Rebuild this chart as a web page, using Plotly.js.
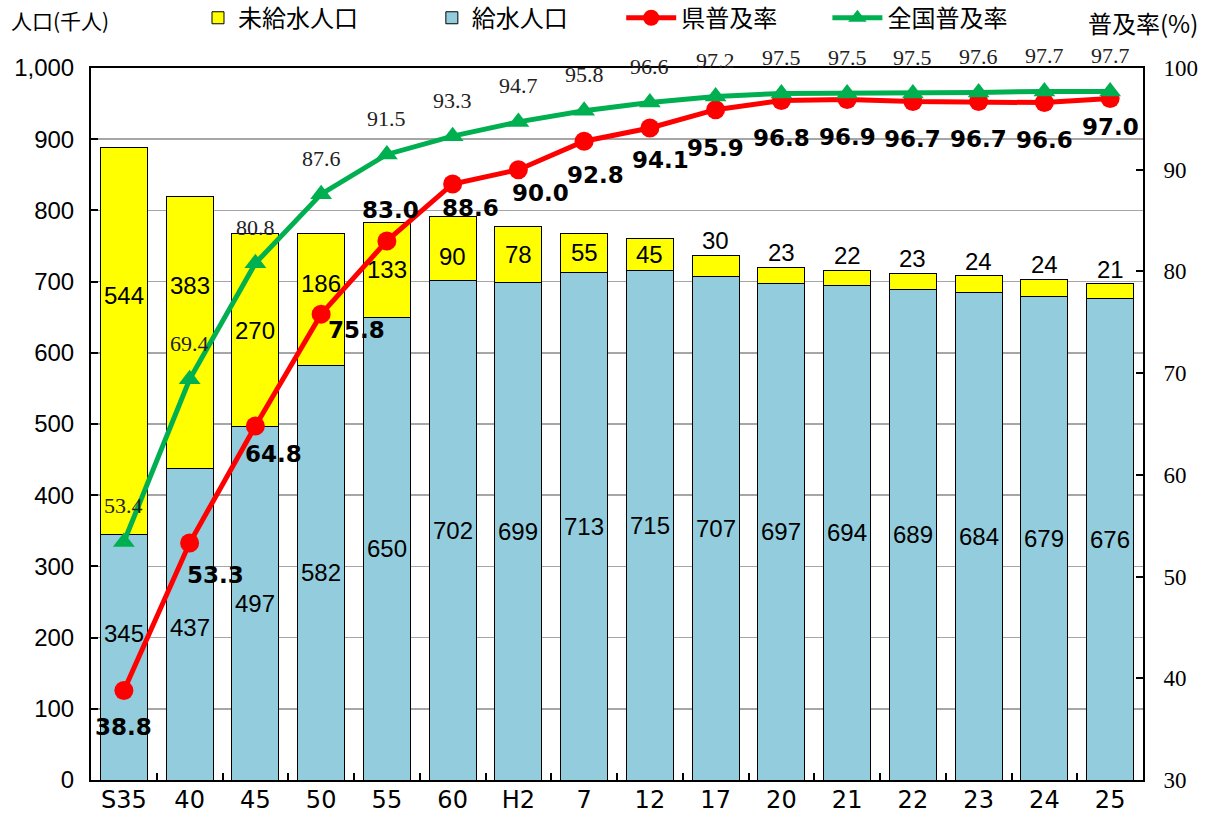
<!DOCTYPE html>
<html><head><meta charset="utf-8">
<script src="https://cdn.plot.ly/plotly-3.0.1.min.js"></script>
<style>html,body{margin:0;padding:0;background:#fff}#chart{width:1213px;height:813px}</style>
</head><body><div id="chart"></div>
<script>
const categories = ['S35','40','45','50','55','60','H2','7','12','17','20','21','22','23','24','25'];
const servedPop = [345,437,497,582,650,702,699,713,715,707,697,694,689,684,679,676];
const unservedPop = [544,383,270,186,133,90,78,55,45,30,23,22,23,24,24,21];
const prefRate = [38.8,53.3,64.8,75.8,83.0,88.6,90.0,92.8,94.1,95.9,96.8,96.9,96.7,96.7,96.6,97.0];
const nationalRate = [53.4,69.4,80.8,87.6,91.5,93.3,94.7,95.8,96.6,97.2,97.5,97.5,97.5,97.6,97.7,97.7];

// label offsets (px) used to place the value labels as in the original
const redDx = [0,26,18,35,4,18,22,11,11,0,0,0,0,0,0,0];
const redDy = [-37,-32,-28,-16,31,-24,-23,-34,-32,-38,-37,-37,-37,-37,-37,-28];
const yellowDy = [45,47,0,16,0,-8,0,0,0,0,0,0,0,0,0,0];
const blueDy = [24,-3,0,0,0,0,0,0,0,0,0,0,0,0,0,0];

const CJK = '"Noto Sans CJK JP", sans-serif';
const ARIAL = '"Liberation Sans", Arial, sans-serif';
const SERIF = '"Liberation Serif", "Times New Roman", serif';
const DEJAVU = '"DejaVu Sans", sans-serif';

const traces = [
  {type:'bar', name:'給水人口', x:categories, y:servedPop, legend:'legend2',
   marker:{color:'#93CDDD', line:{color:'#000', width:1}}, hoverinfo:'skip'},
  {type:'bar', name:'未給水人口', x:categories, y:unservedPop, legend:'legend',
   marker:{color:'#FFFF00', line:{color:'#000', width:1}}, hoverinfo:'skip'},
  {type:'scatter', mode:'lines+markers', name:'県普及率', x:categories, y:prefRate, yaxis:'y2', legend:'legend3',
   line:{color:'#FF0000', width:5}, marker:{symbol:'circle', size:19, color:'#FF0000'}, cliponaxis:false},
  {type:'scatter', mode:'lines+markers', name:'全国普及率', x:categories, y:nationalRate, yaxis:'y2', legend:'legend4',
   line:{color:'#00B050', width:5}, marker:{symbol:'triangle-up', size:19, color:'#00B050'}, cliponaxis:false}
];

const annotations = [];
const barFont = {family:ARIAL, size:24, color:'#000'};
servedPop.forEach((v,i)=>{
  annotations.push({x:i, y:v/2, xref:'x', yref:'y', text:String(v), showarrow:false,
    yshift:blueDy[i], font:barFont});
});
unservedPop.forEach((v,i)=>{
  const top = servedPop[i] + v;
  if (v >= 40) {
    annotations.push({x:i, y:servedPop[i] + v/2, xref:'x', yref:'y', text:String(v), showarrow:false,
      yshift:yellowDy[i], font:barFont});
  } else {
    annotations.push({x:i, y:top, xref:'x', yref:'y', text:String(v), showarrow:false,
      yanchor:'bottom', yshift:-1, font:barFont});
  }
});
nationalRate.forEach((v,i)=>{
  annotations.push({x:i, y:v, xref:'x', yref:'y2', text:v.toFixed(1), showarrow:false,
    yshift:36, font:{family:SERIF, size:22, color:'#222'}});
});
prefRate.forEach((v,i)=>{
  annotations.push({x:i, y:v, xref:'x', yref:'y2', text:'<b>'+v.toFixed(1)+'</b>', showarrow:false,
    xshift:redDx[i], yshift:redDy[i], font:{family:DEJAVU, size:23, color:'#000'}});
});
annotations.push({xref:'paper', yref:'paper', x:-0.078, y:1.067, xanchor:'left', yanchor:'middle',
  text:'人口(千人)', showarrow:false, font:{family:CJK, size:21, color:'#000'}});
annotations.push({xref:'paper', yref:'paper', x:1.0542, y:1.064, xanchor:'right', yanchor:'middle',
  text:'普及率(%)', showarrow:false, font:{family:CJK, size:24, color:'#000'}});

const legendBase = {orientation:'h', y:1.07, yanchor:'middle', xanchor:'left',
  font:{family:CJK, size:24, color:'#000'}, bgcolor:'rgba(0,0,0,0)', borderwidth:0};

const layout = {
  width:1213, height:813,
  margin:{l:91, r:70, t:68, b:33, autoexpand:false},
  paper_bgcolor:'#fff', plot_bgcolor:'#fff',
  barmode:'stack', bargap:0.285,
  showlegend:true,
  legend: Object.assign({}, legendBase, {x:0.1017, itemwidth:30}),
  legend2: Object.assign({}, legendBase, {x:0.324, itemwidth:30}),
  legend3: Object.assign({}, legendBase, {x:0.504, itemwidth:50}),
  legend4: Object.assign({}, legendBase, {x:0.700, itemwidth:50}),
  xaxis:{type:'category', range:[-0.5,15.5], showline:true, linecolor:'#000', linewidth:2, mirror:true,
    ticks:'inside', tickson:'boundaries', ticklen:7, tickcolor:'#000', tickwidth:2, tickangle:0,
    tickfont:{family:DEJAVU, size:24, color:'#000'}, ticklabelstandoff:-3, showgrid:false, fixedrange:true},
  yaxis:{range:[0,1000], dtick:100, tickformat:',d', showline:true, linecolor:'#000', linewidth:2,
    ticks:'inside', ticklen:7, tickcolor:'#000', tickwidth:2,
    gridcolor:'#A6A6A6', gridwidth:1.5, zeroline:false,
    tickfont:{family:ARIAL, size:24, color:'#000'}, ticklabelstandoff:10},
  yaxis2:{range:[30,100], dtick:10, overlaying:'y', side:'right', showline:true, linecolor:'#000', linewidth:2,
    ticks:'inside', ticklen:7, tickcolor:'#000', tickwidth:2, showgrid:false, zeroline:false,
    tickfont:{family:SERIF, size:23, color:'#000'}, ticklabelstandoff:14},
  annotations:annotations
};

Plotly.newPlot('chart', traces, layout, {displayModeBar:false, staticPlot:true});
</script>
</body></html>
